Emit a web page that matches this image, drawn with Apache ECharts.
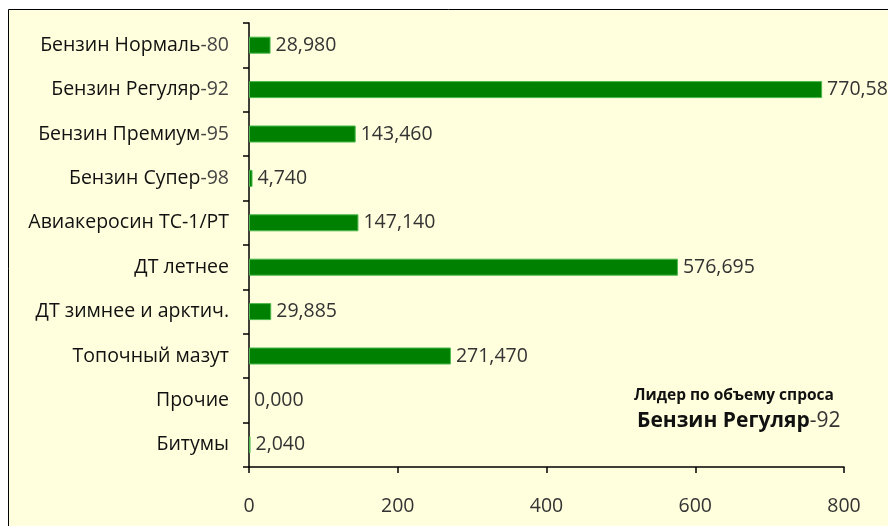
<!DOCTYPE html>
<html><head><meta charset="utf-8">
<script src="https://cdn.jsdelivr.net/npm/echarts@6/dist/echarts.min.js"></script>
<style>html,body{margin:0;padding:0;background:#fff;}#c{width:888px;height:526px;}</style>
</head><body><div id="c"></div>
<script>
const categories = ['Бензин Нормаль-80','Бензин Регуляр-92','Бензин Премиум-95','Бензин Супер-98','Авиакеросин ТС-1/РТ','ДТ летнее','ДТ зимнее и арктич.','Топочный мазут','Прочие','Битумы'];
const values = [28.980, 770.580, 143.460, 4.740, 147.140, 576.695, 29.885, 271.470, 0.000, 2.040];
const xTicks = [0, 200, 400, 600, 800];
const noteTitle = 'Лидер по объему спроса';
const noteMain = 'Бензин Регуляр';
const noteSuffix = '-92';

const FONT = '"Open Sans", "Noto Sans", sans-serif';
const FS = 19.5;
const chart = echarts.init(document.getElementById('c'));
chart.setOption({
  backgroundColor: '#fff',
  animation: false,
  graphic: [
    {type:'rect', z:-10, shape:{x:8.5,y:9.5,width:900,height:540}, style:{fill:'#FFFEDD', stroke:'#000', lineWidth:1}},
    {type:'text', left: 634, top: 388, style:{text: noteTitle, font:'bold 15.5px ' + FONT, fill:'#111', width:200, align:'center'}},
    {type:'text', left: 637, top: 411, style:{
      text: '{b|' + noteMain + '}{n|' + noteSuffix + '}', width:200, align:'center',
      rich:{ b:{font:'bold 21px ' + FONT, fill:'#111'}, n:{font:'21px ' + FONT, fill:'#333'} }
    }}
  ],
  grid: {left: 249, top: 23, right: 44, bottom: 59, containLabel: false},
  xAxis: {
    type: 'value', min: xTicks[0], max: xTicks[xTicks.length-1], interval: 200,
    axisLine: {show: true, lineStyle: {color: '#000', width: 1.5}},
    axisTick: {show: true, length: 6, lineStyle: {color: '#000', width: 1.5}},
    splitLine: {show: false},
    axisLabel: {margin: 29, color: '#333', fontSize: FS, fontFamily: FONT}
  },
  yAxis: {
    type: 'category', inverse: true, data: categories,
    axisLine: {show: true, lineStyle: {color: '#000', width: 1.5}},
    axisTick: {show: true, length: 6, alignWithLabel: false, lineStyle: {color: '#000', width: 1.5}},
    axisLabel: {
      margin: 20, fontFamily: FONT,
      formatter: function (v) {
        const i = v.lastIndexOf('-');
        if (i > 0 && /\d+$/.test(v.slice(i+1))) return '{a|' + v.slice(0, i) + '}{b|' + v.slice(i) + '}';
        return '{a|' + v + '}';
      },
      rich: {a: {fontSize: FS, color: '#111', fontFamily: FONT}, b: {fontSize: FS, color: '#444', fontFamily: FONT}}
    }
  },
  series: [{
    type: 'bar',
    data: values.map(v => v === 0 ? {value: v, itemStyle: {borderWidth: 0}} : v),
    barWidth: 17,
    itemStyle: {color: '#008000', borderColor: '#4bb84b', borderWidth: 1},
    label: {
      show: true, position: 'right', distance: 5, color: '#333', fontSize: FS, fontFamily: FONT,
      formatter: function (p) { return p.value.toFixed(3).replace('.', ','); }
    }
  }]
});
</script></body></html>
